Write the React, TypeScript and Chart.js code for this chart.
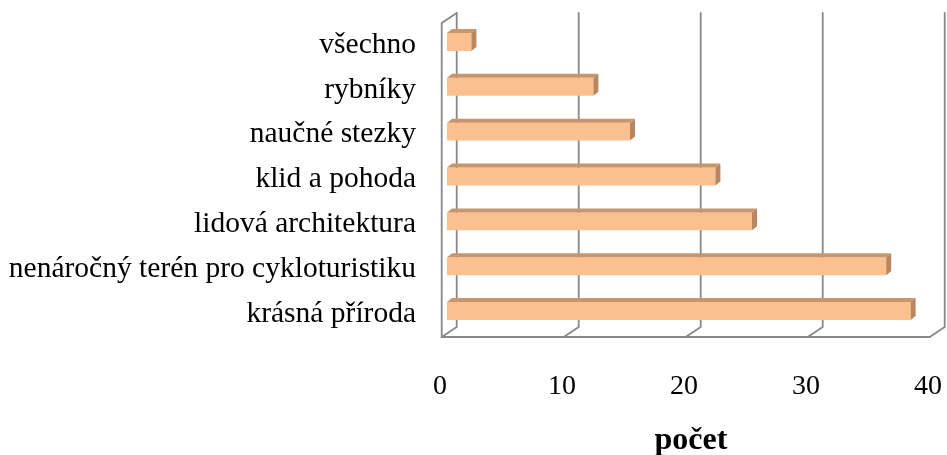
import React, { useEffect, useRef } from "react";
import { Chart, registerables } from "chart.js";

Chart.register(...registerables);

const categories = [
  "všechno",
  "rybníky",
  "naučné stezky",
  "klid a pohoda",
  "lidová architektura",
  "nenáročný terén pro cykloturistiku",
  "krásná příroda",
];
const counts = [2, 12, 15, 22, 25, 36, 38];
const xTickValues = [0, 10, 20, 30, 40];
const axisTitle = "počet";

const FRONT = "#FAC090";
const TOP = "#C8966C";
const SIDE = "#B9875F";
const GRID = "#888888";
const SERIF = "'Liberation Serif', 'Times New Roman', serif";

const threeD = {
  id: "threeD",
  beforeDatasetsDraw(chart: any) {
    const { ctx, chartArea, scales } = chart;
    const xs = scales.x;
    const top = chartArea.top;
    const bottom = chartArea.bottom;
    const fdx = -5.3, fdy = 3.5; // front plane offset
    const bdx = 9.7, bdy = -6.5; // back plane offset
    ctx.save();
    ctx.strokeStyle = GRID;
    ctx.lineWidth = 1.8;
    ctx.lineCap = "round";
    xTickValues.forEach((v) => {
      const p = xs.getPixelForValue(v);
      ctx.beginPath();
      ctx.moveTo(p + bdx, top + bdy);
      ctx.lineTo(p + bdx, bottom + bdy);
      ctx.lineTo(p + fdx, bottom + fdy);
      ctx.stroke();
    });
    const p0 = xs.getPixelForValue(0);
    const p40 = xs.getPixelForValue(40);
    ctx.beginPath();
    ctx.moveTo(p0 + bdx, top + bdy);
    ctx.lineTo(p0 + fdx, top + fdy);
    ctx.lineTo(p0 + fdx, bottom + fdy);
    ctx.lineTo(p40 + fdx, bottom + fdy);
    ctx.stroke();
    ctx.restore();
  },
  afterDatasetsDraw(chart: any) {
    const { ctx } = chart;
    const meta = chart.getDatasetMeta(0);
    const dx = 5, dy = 4;
    ctx.save();
    meta.data.forEach((bar: any) => {
      const x0 = bar.base;
      const x1 = bar.x;
      const yT = bar.y - bar.height / 2;
      const yB = bar.y + bar.height / 2;
      ctx.fillStyle = TOP;
      ctx.beginPath();
      ctx.moveTo(x0, yT);
      ctx.lineTo(x0 + dx, yT - dy);
      ctx.lineTo(x1 + dx, yT - dy);
      ctx.lineTo(x1, yT);
      ctx.closePath();
      ctx.fill();
      ctx.fillStyle = SIDE;
      ctx.beginPath();
      ctx.moveTo(x1, yT);
      ctx.lineTo(x1 + dx, yT - dy);
      ctx.lineTo(x1 + dx, yB - dy);
      ctx.lineTo(x1, yB);
      ctx.closePath();
      ctx.fill();
    });
    ctx.restore();
  },
};

const noPad = (s: any) => {
  s.paddingTop = 0;
  s.paddingBottom = 0;
  s.paddingLeft = 0;
  s.paddingRight = 0;
};

export default function App() {
  const ref = useRef<HTMLCanvasElement>(null);
  useEffect(() => {
    if (!ref.current) return;
    const chart = new Chart(ref.current, {
      type: "bar",
      data: {
        labels: categories,
        datasets: [
          {
            data: counts,
            backgroundColor: FRONT,
            borderWidth: 0,
            barPercentage: 0.4,
            categoryPercentage: 1.0,
          },
        ],
      },
      options: {
        indexAxis: "y",
        responsive: false,
        animation: false,
        layout: { autoPadding: false, padding: { top: 19.5, right: 12, left: 0, bottom: 0 } },
        plugins: { legend: { display: false }, tooltip: { enabled: false } },
        scales: {
          y: {
            type: "category",
            grid: { display: false, drawTicks: false },
            border: { display: false },
            ticks: {
              color: "#000",
              font: { family: SERIF, size: 29.5 },
              padding: 31,
              labelOffset: 3,
            },
            afterFit: (s: any) => {
              s.width = 447;
              noPad(s);
            },
          },
          x: {
            type: "linear",
            min: 0,
            max: 40,
            grid: { display: false, drawTicks: false },
            border: { display: false },
            ticks: {
              stepSize: 10,
              color: "#000",
              font: { family: SERIF, size: 28 },
              padding: 36,
              labelOffset: -7,
            },
            title: {
              display: true,
              text: axisTitle,
              color: "#000",
              font: { family: SERIF, size: 32, weight: "bold" },
              padding: { top: 0, bottom: -5 },
            },
            afterFit: (s: any) => {
              s.height = 121.5;
              noPad(s);
            },
          },
        },
      },
      plugins: [threeD],
    });
    return () => chart.destroy();
  }, []);
  return (
    <div style={{ position: "fixed", left: 0, top: 0, width: 947, height: 455, background: "#fff" }}>
      <canvas ref={ref} width={947} height={455} style={{ display: "block" }} />
    </div>
  );
}
